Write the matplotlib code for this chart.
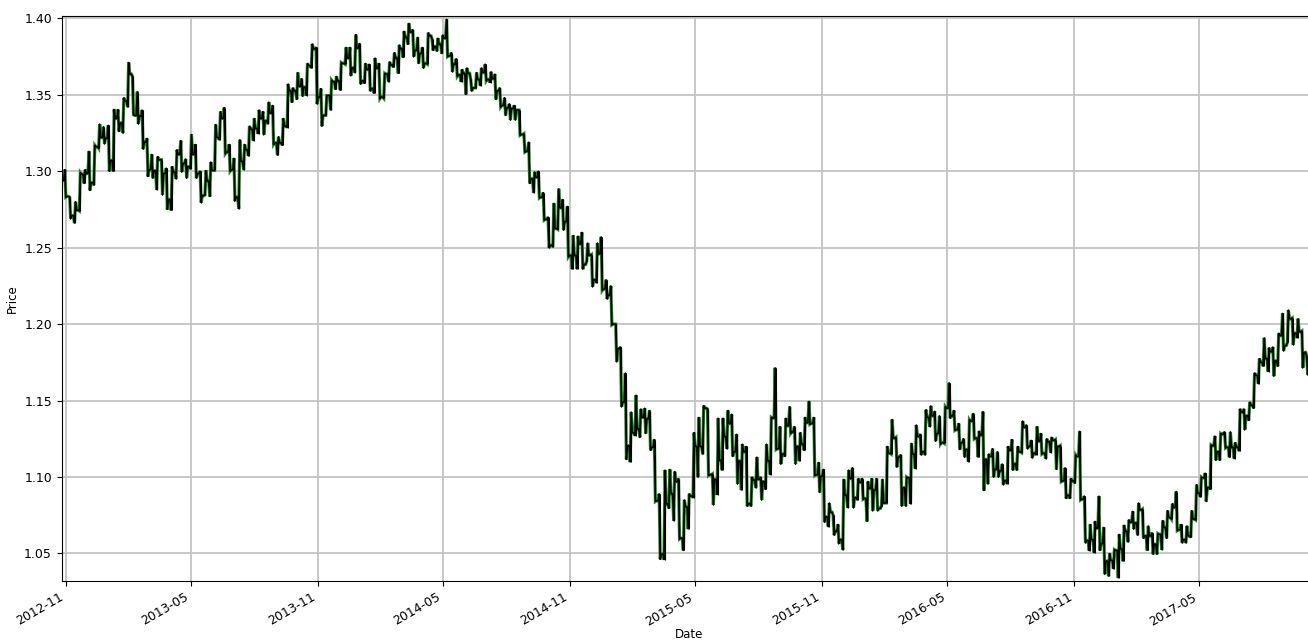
import numpy as np
import pandas as pd
import matplotlib
matplotlib.use("Agg")
import matplotlib.pyplot as plt
import matplotlib.dates as mdates

# Weekly EUR/USD bars, weeks starting Monday 2012-10-29
first_open = 1.2940

high = [
    1.3010, 1.2830, 1.2800, 1.2990, 1.3010, 1.3130, 1.3170, 1.3308, 1.3290,
    1.3300, 1.3405, 1.3403, 1.3480, 1.3711, 1.3620, 1.3520, 1.3400, 1.3215, 1.3110,
    1.3095, 1.3075, 1.3020, 1.3030, 1.3140, 1.3200, 1.3080, 1.3240, 1.3175, 1.3000,
    1.3005, 1.3060, 1.3305, 1.3390, 1.3416, 1.3175, 1.3085, 1.3205, 1.3175, 1.3295,
    1.3345, 1.3400, 1.3390, 1.3452, 1.3430, 1.3225, 1.3345, 1.3570, 1.3545, 1.3645,
    1.3605, 1.3705, 1.3832, 1.3810, 1.3540, 1.3495, 1.3595, 1.3620, 1.3710, 1.3810,
    1.3810, 1.3893, 1.3835,
    1.3705, 1.3700, 1.3740, 1.3705, 1.3640, 1.3715, 1.3775, 1.3825, 1.3915, 1.3967,
    1.3925, 1.3875, 1.3810, 1.3905, 1.3865, 1.3870, 1.3890, 1.3993, 1.3775, 1.3735,
    1.3665, 1.3675, 1.3600, 1.3645, 1.3675, 1.3700, 1.3650, 1.3635, 1.3545, 1.3480,
    1.3440, 1.3430, 1.3400, 1.3245, 1.3190, 1.2995, 1.3000, 1.2860, 1.2700, 1.2790,
    1.2885, 1.2815, 1.2770, 1.2580, 1.2575, 1.2600, 1.2530, 1.2455, 1.2530, 1.2570,
    1.2290, 1.2250,
    1.2000, 1.1850, 1.1680, 1.1425, 1.1535, 1.1445, 1.1450, 1.1435, 1.1245, 1.0890,
    1.1045, 1.1050, 1.1035, 1.0990, 1.0850, 1.0890, 1.1290, 1.1390, 1.1467, 1.1445,
    1.1020, 1.1385, 1.1385, 1.1435, 1.1410, 1.1280, 1.1215, 1.1200, 1.1000, 1.1130,
    1.1000, 1.1215, 1.1390, 1.1714, 1.1330, 1.1385, 1.1460, 1.1330, 1.1290, 1.1390,
    1.1495, 1.1390, 1.1095, 1.1050, 1.0830, 1.0750, 1.0690, 1.0985, 1.1045, 1.1060,
    1.0990, 1.0990,
    1.0970, 1.0990, 1.0990, 1.0985, 1.1200, 1.1376, 1.1260, 1.1145, 1.1000, 1.1220,
    1.1340, 1.1280, 1.1440, 1.1465, 1.1430, 1.1400, 1.1460, 1.1616, 1.1435, 1.1350,
    1.1250, 1.1375, 1.1415, 1.1300, 1.1427, 1.1150, 1.1185, 1.1165, 1.1085, 1.1200,
    1.1245, 1.1200, 1.1366, 1.1340, 1.1240, 1.1330, 1.1285, 1.1250, 1.1260, 1.1245,
    1.1205, 1.1060, 1.0990, 1.1145, 1.1299, 1.0875, 1.0690, 1.0710, 1.0875, 1.0670,
    1.0500, 1.0525,
    1.0625, 1.0685, 1.0720, 1.0775, 1.0830, 1.0790, 1.0680, 1.0635, 1.0630, 1.0715,
    1.0780, 1.0825, 1.0905, 1.0690, 1.0680, 1.0780, 1.0950, 1.1000, 1.1025, 1.1210,
    1.1268, 1.1285, 1.1295, 1.1295, 1.1225, 1.1445, 1.1445, 1.1490, 1.1680, 1.1775,
    1.1910, 1.1845, 1.1850, 1.1940, 1.2070, 1.2092, 1.2040, 1.2035, 1.1955, 1.1790,
]

low = [
    1.2830, 1.2690, 1.2661, 1.2740, 1.2920, 1.2875, 1.2910, 1.3150, 1.3180,
    1.3000, 1.3000, 1.3260, 1.3250, 1.3420, 1.3370, 1.3310, 1.3145, 1.2966, 1.2955,
    1.2880, 1.2845, 1.2750, 1.2745, 1.2950, 1.2995, 1.2955, 1.3015, 1.2955, 1.2795,
    1.2845, 1.2835, 1.3005, 1.3205, 1.3115, 1.3000, 1.2805, 1.2755, 1.3010, 1.3100,
    1.3200, 1.3245, 1.3240, 1.3310, 1.3175, 1.3105, 1.3170, 1.3285, 1.3450, 1.3470,
    1.3490, 1.3495, 1.3675, 1.3440, 1.3295, 1.3365, 1.3400, 1.3535, 1.3530, 1.3700,
    1.3625, 1.3645, 1.3570,
    1.3575, 1.3525, 1.3510, 1.3475, 1.3477, 1.3585, 1.3680, 1.3640, 1.3745, 1.3830,
    1.3750, 1.3705, 1.3675, 1.3700, 1.3790, 1.3785, 1.3770, 1.3750, 1.3650, 1.3620,
    1.3585, 1.3502, 1.3525, 1.3545, 1.3560, 1.3590, 1.3580, 1.3470, 1.3420, 1.3365,
    1.3335, 1.3335, 1.3235, 1.3125, 1.2920, 1.2860, 1.2825, 1.2680, 1.2500, 1.2505,
    1.2620, 1.2615, 1.2440, 1.2360, 1.2360, 1.2360, 1.2410, 1.2245, 1.2270, 1.2220,
    1.2165, 1.1995,
    1.1755, 1.1460, 1.1115, 1.1098, 1.1270, 1.1260, 1.1285, 1.1175, 1.0840, 1.0462,
    1.0460, 1.0795, 1.0715, 1.0595, 1.0520, 1.0660, 1.0865, 1.1000, 1.1150, 1.1010,
    1.0819, 1.0885, 1.1045, 1.1185, 1.1135, 1.0955, 1.0915, 1.0810, 1.0810, 1.0930,
    1.0850, 1.0920, 1.1015, 1.1180, 1.1085, 1.1135, 1.1285, 1.1085, 1.1105, 1.1175,
    1.1345, 1.1010, 1.0900, 1.0705, 1.0675, 1.0620, 1.0565, 1.0524, 1.0800, 1.0800,
    1.0850, 1.0855,
    1.0710, 1.0780, 1.0780, 1.0810, 1.0830, 1.1150, 1.1065, 1.0810, 1.0810, 1.0825,
    1.1055, 1.1145, 1.1145, 1.1330, 1.1235, 1.1215, 1.1220, 1.1385, 1.1305, 1.1180,
    1.1130, 1.1100, 1.1250, 1.1130, 1.0912, 1.0955, 1.1000, 1.1000, 1.0950, 1.0955,
    1.1045, 1.1045, 1.1160, 1.1185, 1.1125, 1.1145, 1.1150, 1.1120, 1.1160, 1.1050,
    1.0970, 1.0860, 1.0860, 1.0960, 1.0850, 1.0570, 1.0518, 1.0505, 1.0520, 1.0365,
    1.0352, 1.0400,
    1.0340, 1.0450, 1.0575, 1.0660, 1.0620, 1.0600, 1.0520, 1.0495, 1.0495, 1.0525,
    1.0600, 1.0725, 1.0650, 1.0570, 1.0570, 1.0605, 1.0720, 1.0870, 1.0840, 1.0920,
    1.1110, 1.1110, 1.1190, 1.1130, 1.1120, 1.1170, 1.1310, 1.1370, 1.1450, 1.1610,
    1.1725, 1.1690, 1.1660, 1.1725, 1.1825, 1.1880, 1.1865, 1.1910, 1.1715, 1.1670,
]

close = [
    1.2835, 1.2710, 1.2745, 1.2980, 1.2985, 1.2925, 1.3160, 1.3220, 1.3215,
    1.3070, 1.3345, 1.3315, 1.3460, 1.3635, 1.3365, 1.3360, 1.3190, 1.3010, 1.3003,
    1.3075, 1.2985, 1.2815, 1.2994, 1.3110, 1.3050, 1.3030, 1.3110, 1.2985, 1.2840,
    1.2935, 1.3005, 1.3220, 1.3345, 1.3125, 1.3010, 1.2830, 1.3065, 1.3140, 1.3275,
    1.3280, 1.3345, 1.3330, 1.3380, 1.3185, 1.3185, 1.3295, 1.3525, 1.3525, 1.3555,
    1.3550, 1.3690, 1.3800, 1.3485, 1.3365, 1.3495, 1.3585, 1.3590, 1.3705, 1.3740,
    1.3675, 1.3805, 1.3590,
    1.3665, 1.3540, 1.3675, 1.3485, 1.3635, 1.3695, 1.3740, 1.3800, 1.3875, 1.3910,
    1.3790, 1.3770, 1.3705, 1.3885, 1.3815, 1.3830, 1.3870, 1.3755, 1.3700, 1.3630,
    1.3640, 1.3640, 1.3545, 1.3600, 1.3645, 1.3600, 1.3605, 1.3525, 1.3430, 1.3415,
    1.3410, 1.3400, 1.3240, 1.3130, 1.2950, 1.2960, 1.2830, 1.2685, 1.2515, 1.2625,
    1.2760, 1.2670, 1.2450, 1.2450, 1.2525, 1.2390, 1.2450, 1.2290, 1.2460, 1.2230,
    1.2190, 1.2000,
    1.1840, 1.1490, 1.1205, 1.1290, 1.1315, 1.1390, 1.1380, 1.1195, 1.0845, 1.0495,
    1.0825, 1.0890, 1.0970, 1.0600, 1.0805, 1.0875, 1.1200, 1.1200, 1.1450, 1.1015,
    1.0985, 1.1110, 1.1265, 1.1350, 1.1165, 1.1105, 1.1165, 1.0825, 1.0980, 1.0985,
    1.0970, 1.1105, 1.1385, 1.1185, 1.1150, 1.1335, 1.1295, 1.1200, 1.1215, 1.1355,
    1.1350, 1.1015, 1.1005, 1.0740, 1.0770, 1.0645, 1.0590, 1.0880, 1.0990, 1.0865,
    1.0965, 1.0860,
    1.0925, 1.0915, 1.0795, 1.0830, 1.1155, 1.1255, 1.1130, 1.0930, 1.0995, 1.1150,
    1.1265, 1.1165, 1.1390, 1.1400, 1.1285, 1.1225, 1.1450, 1.1400, 1.1310, 1.1225,
    1.1180, 1.1365, 1.1255, 1.1275, 1.1115, 1.1135, 1.1050, 1.1040, 1.0975, 1.1175,
    1.1085, 1.1165, 1.1325, 1.1200, 1.1155, 1.1235, 1.1155, 1.1230, 1.1240, 1.1200,
    1.0975, 1.0880, 1.0975, 1.1135, 1.0855, 1.0585, 1.0590, 1.0665, 1.0565, 1.0450,
    1.0455, 1.0520,
    1.0530, 1.0645, 1.0705, 1.0700, 1.0785, 1.0615, 1.0615, 1.0560, 1.0625, 1.0670,
    1.0735, 1.0800, 1.0655, 1.0590, 1.0615, 1.0725, 1.0895, 1.0995, 1.0930, 1.1205,
    1.1165, 1.1280, 1.1195, 1.1195, 1.1195, 1.1425, 1.1400, 1.1470, 1.1665, 1.1750,
    1.1775, 1.1820, 1.1760, 1.1925, 1.1860, 1.2035, 1.1940, 1.1950, 1.1815, 1.1735,
]

week_start = pd.date_range("2012-10-29", periods=len(close), freq="W-MON")
t0 = mdates.date2num(week_start.to_pydatetime())

close_a = np.array(close)
open_a = np.concatenate([[first_open], close_a[:-1]])
high_a = np.array(high)
low_a = np.array(low)
up = close_a >= open_a

# Trace each week open -> extreme -> extreme -> close across Mon..Fri
first_ext = np.where(up, low_a, high_a)
second_ext = np.where(up, high_a, low_a)
px = np.column_stack([t0, t0 + 1.5, t0 + 3.0, t0 + 4.6]).ravel()
py = np.column_stack([open_a, first_ext, second_ext, close_a]).ravel()

fig = plt.figure(figsize=(13.08, 6.41), dpi=100)
ax = fig.add_axes([61.7 / 1308, 60 / 641, (1316 - 61.7) / 1308, (581 - 16) / 641])

ax.set_axisbelow(True)
ax.grid(True, color="#c4c4c4", linewidth=1.3)

ax.plot(px, py, color="#1f8f1f", linewidth=2.3, solid_joinstyle="miter", zorder=2)
ax.plot(px, py, color="black", linewidth=1.1, zorder=3)
ax.vlines(t0 + 2.25, low_a, high_a, color="black", linewidth=0.8, zorder=3)

ax.set_xlim(mdates.date2num(pd.Timestamp("2012-10-26")),
            mdates.date2num(pd.Timestamp("2017-10-17")))
ax.set_ylim(1.0320, 1.4015)
ax.set_yticks([1.05, 1.10, 1.15, 1.20, 1.25, 1.30, 1.35, 1.40])
ax.yaxis.set_major_formatter(matplotlib.ticker.FormatStrFormatter("%.2f"))
ax.xaxis.set_major_locator(mdates.MonthLocator(bymonth=[5, 11]))
ax.xaxis.set_major_formatter(mdates.DateFormatter("%Y-%m"))
ax.tick_params(labelsize=9)
plt.setp(ax.get_xticklabels(), rotation=30, ha="right")
ax.set_xlabel("Date", fontsize=8.5, labelpad=0)
ax.set_ylabel("Price", fontsize=8.5)

fig.savefig("out.png", dpi=100)
